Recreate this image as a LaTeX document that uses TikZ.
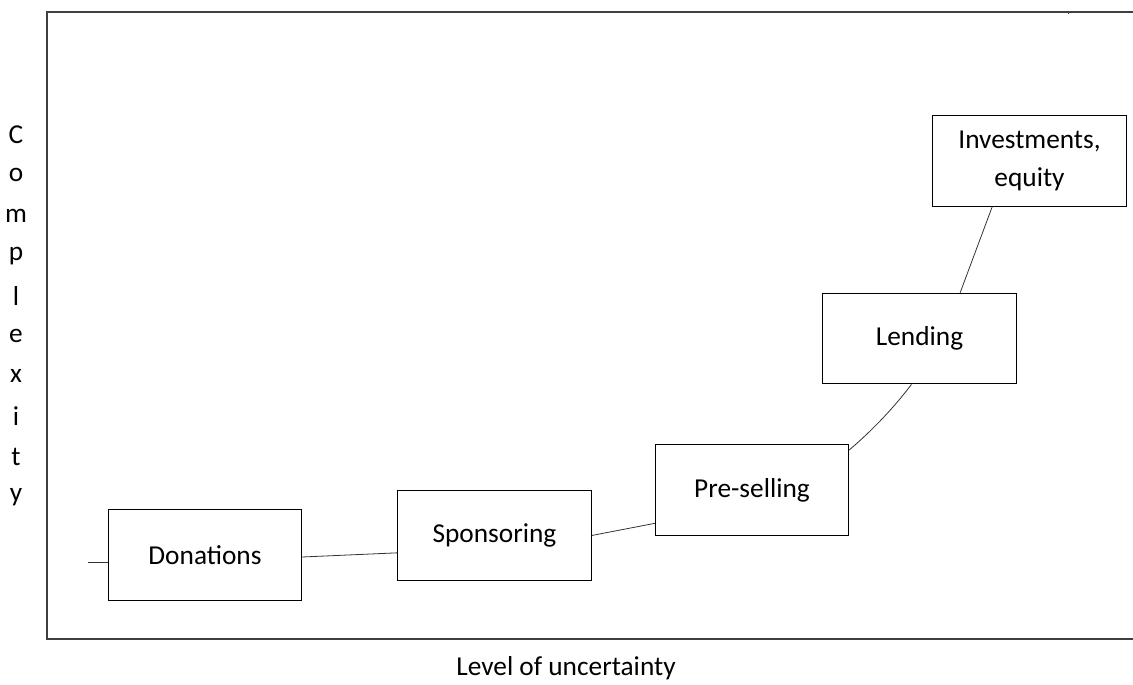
\documentclass[tikz,border=0pt]{standalone}
\usepackage{fontspec}
\setmainfont{Carlito}
\usetikzlibrary{positioning}

\begin{document}
\begin{tikzpicture}[x=0.75pt,y=-0.75pt,
            blk/.style={draw,thick,minimum width=145pt,minimum height=68pt,align=center,font=\fontsize{20.5}{28.5}\selectfont},
            lnk/.style={draw=black!80,line width=0.6pt},
            lbl/.style={font=\fontsize{20.5}{24}\selectfont}]

            \useasboundingbox (0,0) rectangle (1133,685);

            % the open frame round the chart
            \coordinate (tl) at (47,12);
            \coordinate (bl) at (47,639);
            \coordinate (tr) at (1133,12);
            \coordinate (br) at (1133,639);
            \draw[thick,black!75] (tr)--(tl)--(bl)--(br);
            \coordinate (tk) at (1068,12);
            \draw[black!75] (tk)--++(0,2);

            % the five ways of funding
            \node[blk] (don) at (205,555)    {Donations};
            \node[blk] (spo) at (494.5,535.5) {Sponsoring};
            \node[blk] (pre) at (752,490)    {Pre-selling};
            \node[blk] (len) at (919.5,338.5) {Lending};
            \node[blk] (inv) at (1029.5,161)  {Investments,\\equity};

            % the curve that runs through them
            \coordinate (st) at (88,562);
            \draw[lnk] (st)--(don.west|-st);
            \draw[lnk] ([yshift=-1.5pt]don.east)--([yshift=-13pt]spo.west);
            \draw[lnk] ([yshift=0pt]spo.east)--([yshift=-25pt]pre.west);
            \draw[lnk] ([yshift=30pt]pre.east) .. controls (875,428) and (895,406) .. ([xshift=-6pt]len.south);
            \draw[lnk] ([xshift=30.5pt]len.north)--([xshift=-28pt]inv.south);

            % axis titles
            \foreach \ch [count=\i from 0] in {C,o,m,p,l,e,x,i,t,y}
                \node[lbl] (c\i) at (16,135+40.2*\i) {\ch};
            \node[lbl] (xlab) at (566,668) {Level of uncertainty};
        \end{tikzpicture}
\end{document}
